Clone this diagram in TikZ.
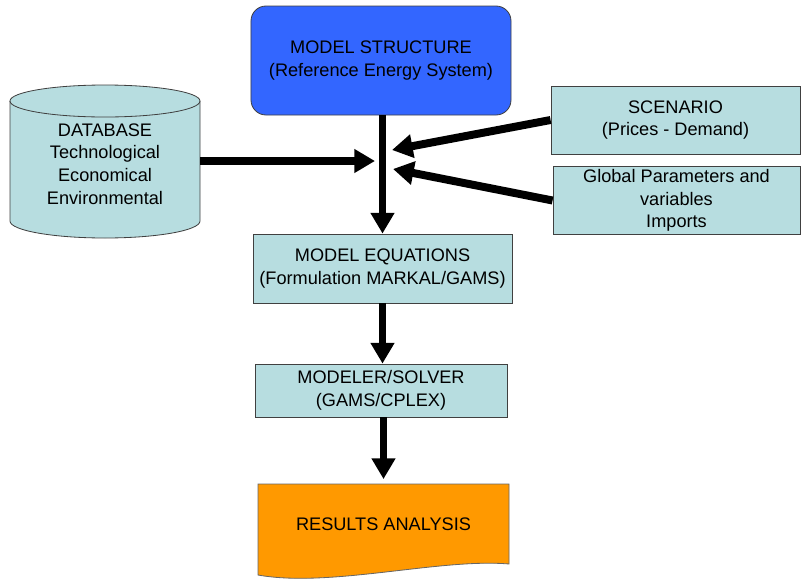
\documentclass[tikz,border=0pt]{standalone}
\usepackage{fontspec}
\setmainfont{Liberation Sans}
\usetikzlibrary{arrows.meta}
\definecolor{boxfill}{RGB}{183,221,224}
\definecolor{structblue}{RGB}{51,102,255}
\definecolor{resorange}{RGB}{255,153,0}
\tikzset{
  txt/.style={align=center, inner sep=0pt, font=\fontsize{15.5}{19.4}\selectfont},
  box/.style={txt, draw=black!75, line width=0.7pt, fill=boxfill},
  flow/.style={line width=6.8pt, -{Triangle[length=0.62cm,width=0.68cm]}},
}
\begin{document}
\begin{tikzpicture}[x=0.03cm,y=-0.03cm]
  \useasboundingbox (0,0) rectangle (801,580);

  \draw[draw=black!75, line width=0.7pt, fill=boxfill]
    (10,101) -- (10,221) arc[start angle=180, end angle=360, x radius=2.85cm, y radius=0.51cm]
    -- (200,101) arc[start angle=0, end angle=180, x radius=2.85cm, y radius=0.48cm] -- cycle;
  \draw[draw=black!75, line width=0.7pt]
    (200,101) arc[start angle=0, end angle=-180, x radius=2.85cm, y radius=0.48cm];
  \node[txt, minimum width=5.7cm] (db) at (105,164) {DATABASE\\Technological\\Economical\\Environmental};

  \node[box, fill=structblue, rounded corners=0.45cm, minimum width=7.8cm, minimum height=3.27cm] (struct) at (381,60.5) {MODEL STRUCTURE\\(Reference Energy System)};
  \node[box, minimum width=7.47cm, minimum height=2.04cm] (scen) at (675.5,120) {SCENARIO\\(Prices - Demand)};
  \node[box, minimum width=7.41cm, minimum height=2.04cm] (glob) at (676.5,200.5) {Global Parameters and\\variables\\Imports};
  \node[box, minimum width=7.77cm, minimum height=2.07cm] (eq) at (382.5,268.5) {MODEL EQUATIONS\\(Formulation MARKAL/GAMS)};
  \node[box, minimum width=7.56cm, minimum height=1.59cm] (solver) at (381,390.5) {MODELER/SOLVER\\(GAMS/CPLEX)};

  \draw[draw=black!60, line width=0.7pt, fill=resorange]
    (258,484) -- (509,484) -- (509,564) .. controls (440,558) and (330,588) .. (258,575) -- cycle;
  \node[txt, minimum width=7.53cm, minimum height=2.4cm] (res) at (383.5,524) {RESULTS ANALYSIS};

  \coordinate (tipdb) at (375,161);
  \coordinate (tipsc) at (392,150);
  \coordinate (tipgl) at (393,169);

  \draw[flow] (eq.north |- struct.south) -- (eq.north);
  \draw[flow] (db.east |- tipdb) -- (tipdb);
  \draw[flow] (scen.west) -- (tipsc);
  \draw[flow] (glob.west) -- (tipgl);
  \draw[flow] (eq.south) -- (eq.south |- solver.north);
  \draw[flow, shorten >=4pt] (res.north |- solver.south) -- (res.north);
\end{tikzpicture}
\end{document}
